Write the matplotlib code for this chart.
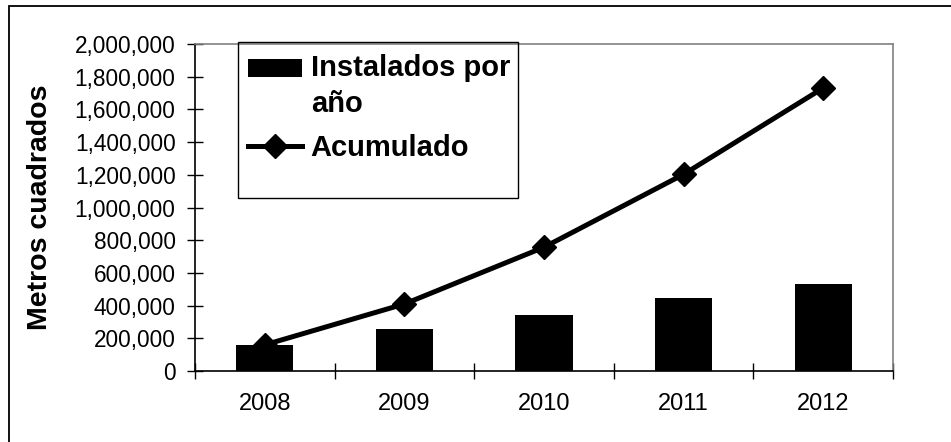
import matplotlib
matplotlib.use("Agg")
import matplotlib.pyplot as plt
from matplotlib.patches import Rectangle
from matplotlib.container import BarContainer
from matplotlib.legend_handler import HandlerPatch, update_from_first_child
from matplotlib.ticker import FuncFormatter, FixedLocator

plt.rcParams['font.family'] = ['Liberation Sans', 'DejaVu Sans']

years = ['2008', '2009', '2010', '2011', '2012']
instalados = [158000, 257000, 345000, 447000, 535000]
acumulado = [160000, 410000, 757000, 1203000, 1731000]
y_ticks = [0, 200000, 400000, 600000, 800000, 1000000, 1200000, 1400000,
           1600000, 1800000, 2000000]

W, H = 951, 442
LEG_FS = 21
LEG_LS = 1.37


def first_line_patch(legend, orig_handle, xdescent, ydescent, width, height, fontsize):
    # box sits on the first line of the two line label (text block is centred)
    shift = fontsize * (0.5 * 0.716 * LEG_LS + 0.21)
    return Rectangle((-xdescent, shift), width, fontsize * 0.6)


fig = plt.figure(figsize=(W / 100, H / 100), dpi=100)
ax = fig.add_axes([195 / W, 1 - 371 / H, (893 - 195) / W, (371 - 44) / H])

x = list(range(len(years)))
bars = ax.bar(x, instalados, width=0.41, color='black', label='Instalados por\naño', zorder=2)
line, = ax.plot(x, acumulado, color='black', lw=3.6, marker='D', ms=12.5,
                label='Acumulado', zorder=3)

ax.set_xlim(-0.5, len(years) - 0.5)
ax.set_ylim(0, 2000000)
ax.yaxis.set_major_locator(FixedLocator(y_ticks))
ax.yaxis.set_major_formatter(FuncFormatter(lambda v, p: f"{int(v):,}"))
ax.set_xticks([i + 0.5 for i in range(-1, len(years))])
ax.set_xticklabels([])
ax.set_xticks(x, minor=True)
ax.set_xticklabels(years, minor=True)
ax.tick_params(axis='x', which='major', direction='inout', length=11, width=1, color='black')
ax.tick_params(axis='x', which='minor', length=0, pad=16, labelsize=17)
ax.tick_params(axis='y', direction='inout', length=11, width=1, labelsize=16.3, pad=8.5)

for s in ['top', 'right']:
    ax.spines[s].set_color('#808080')
    ax.spines[s].set_linewidth(1.2)
for s in ['left', 'bottom']:
    ax.spines[s].set_color('black')
    ax.spines[s].set_linewidth(1.2)

ax.set_ylabel('Metros cuadrados', fontsize=20.5, fontweight='bold')
ax.yaxis.set_label_coords(-(195 - 53) / 698, 0.5)

leg = ax.legend(handles=[bars, line], labels=['Instalados por\naño', 'Acumulado'],
                loc='upper left', borderaxespad=0, borderpad=0,
                bbox_to_anchor=(248 / W, 1 - 54 / H), bbox_transform=fig.transFigure,
                prop={'size': LEG_FS, 'weight': 'bold'}, frameon=False,
                handlelength=1.85, handletextpad=0.3, labelspacing=0.545,
                handler_map={BarContainer: HandlerPatch(patch_func=first_line_patch,
                                                        update_func=update_from_first_child)})
for t in leg.get_texts():
    t.set_linespacing(LEG_LS)

# legend border, Excel keeps some empty room under the entries
fig.add_artist(Rectangle((238 / W, 1 - 198 / H), (518 - 238) / W, (198 - 42) / H,
                         transform=fig.transFigure, fill=False, edgecolor='black', lw=1.0,
                         zorder=4))

# outer chart border
fig.add_artist(Rectangle((9 / W, -0.1), 1.2, 1 - 6 / H + 0.1,
                         transform=fig.transFigure, fill=False, edgecolor='black', lw=1.3))

fig.savefig('out.png', dpi=100)
